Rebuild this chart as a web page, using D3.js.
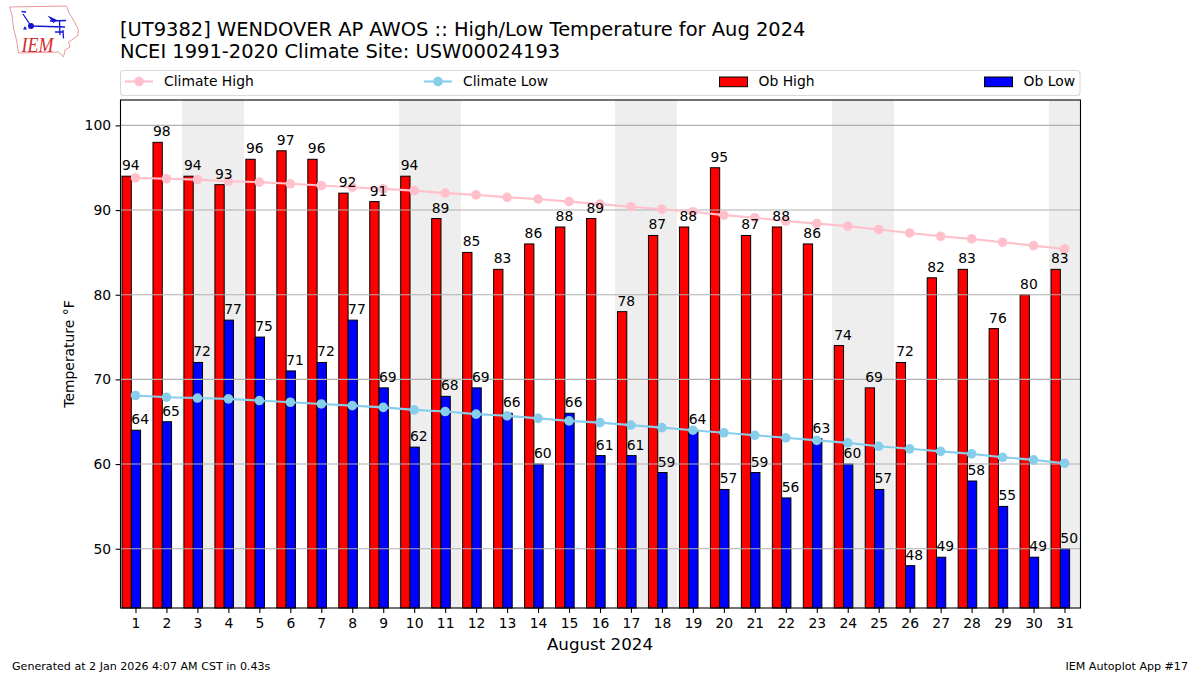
<!DOCTYPE html>
<html>
<head>
<meta charset="utf-8">
<title>High/Low Temperature</title>
<script src="https://cdn.jsdelivr.net/npm/d3@7"></script>
<style>
  html, body { margin: 0; padding: 0; background: #fff; }
  svg { display: block; }
  text { font-family: "DejaVu Sans", sans-serif; fill: #000; }
  text.logo-text { font-family: "Liberation Serif", serif; font-style: italic; fill: #d42a2a; }
</style>
</head>
<body>
<div id="chart"></div>
<script>
// Values
const days = d3.range(1, 32);
const obHigh = [94, 98, 94, 93, 96, 97, 96, 92, 91, 94, 89, 85, 83, 86, 88, 89, 78, 87, 88, 95, 87, 88, 86, 74, 69, 72, 82, 83, 76, 80, 83];
const obLow = [64, 65, 72, 77, 75, 71, 72, 77, 69, 62, 68, 69, 66, 60, 66, 61, 61, 59, 64, 57, 59, 56, 63, 60, 57, 48, 49, 58, 55, 49, 50];
const climateHigh = [93.8, 93.7, 93.6, 93.4, 93.3, 93.1, 92.9, 92.7, 92.5, 92.3, 92.0, 91.8, 91.5, 91.3, 91.0, 90.7, 90.4, 90.1, 89.8, 89.4, 89.1, 88.7, 88.4, 88.1, 87.7, 87.3, 86.9, 86.6, 86.2, 85.8, 85.4];
const climateLow = [68.1, 67.9, 67.8, 67.7, 67.5, 67.3, 67.1, 66.9, 66.7, 66.4, 66.2, 65.9, 65.7, 65.4, 65.1, 64.9, 64.6, 64.3, 64.0, 63.7, 63.4, 63.1, 62.8, 62.5, 62.1, 61.8, 61.5, 61.2, 60.8, 60.5, 60.1];
const weekendDays = [3, 4, 10, 11, 17, 18, 24, 25, 31];
const yTicks = [50, 60, 70, 80, 90, 100];
const titleLines = ["[UT9382] WENDOVER AP AWOS :: High/Low Temperature for Aug 2024", "NCEI 1991-2020 Climate Site: USW00024193"];

const width = 1200, height = 675;
const plotLeft = 120, plotRight = 1080, plotTop = 100, plotBottom = 608;
const barWidth = 0.3;
// Bars start a little left of the day tick, labels start at the bar's left edge
const highStart = -0.435, lowStart = -0.135;

const svg = d3.select("#chart").append("svg")
    .attr("width", width)
    .attr("height", height);

const x = d3.scaleLinear().domain([0.5, 31.5]).range([plotLeft, plotRight]);
const y = d3.scaleLinear().domain([43, 103]).range([plotBottom, plotTop]);

// Weekend shading
svg.append("g").selectAll("rect")
    .data(weekendDays)
    .enter()
    .append("rect")
    .attr("x", d => x(d - 0.5))
    .attr("y", plotTop)
    .attr("width", d => x(d + 0.5) - x(d - 0.5))
    .attr("height", plotBottom - plotTop)
    .attr("fill", "#eeeeee")
    .attr("shape-rendering", "crispEdges");

// Bars
function drawBars(values, offset, color) {
    svg.append("g").selectAll("rect")
        .data(values)
        .enter()
        .append("rect")
        .attr("x", (d, i) => x(days[i] + offset))
        .attr("y", d => y(d))
        .attr("width", x(barWidth) - x(0))
        .attr("height", d => plotBottom - y(d))
        .attr("fill", color)
        .attr("stroke", "#000")
        .attr("stroke-width", 1);
}
drawBars(obHigh, highStart, "#ff0000");
drawBars(obLow, lowStart, "#0000ff");

// Horizontal grid sits over the bars
svg.append("g").selectAll("line")
    .data(yTicks)
    .enter()
    .append("line")
    .attr("x1", plotLeft)
    .attr("x2", plotRight)
    .attr("y1", d => y(d))
    .attr("y2", d => y(d))
    .attr("stroke", "#b0b0b0")
    .attr("stroke-width", 1.1);

// Climate lines
function drawClimate(values, color) {
    const line = d3.line().x((d, i) => x(days[i])).y(d => y(d));
    svg.append("path")
        .attr("d", line(values))
        .attr("fill", "none")
        .attr("stroke", color)
        .attr("stroke-width", 2.1);
    svg.append("g").selectAll("circle")
        .data(values)
        .enter()
        .append("circle")
        .attr("cx", (d, i) => x(days[i]))
        .attr("cy", d => y(d))
        .attr("r", 4.8)
        .attr("fill", color);
}
drawClimate(climateHigh, "pink");
drawClimate(climateLow, "skyblue");

// Value labels
function drawLabels(values, offset) {
    svg.append("g").selectAll("text")
        .data(values)
        .enter()
        .append("text")
        .attr("x", (d, i) => x(days[i] + offset))
        .attr("y", d => y(d) - 6)
        .attr("font-size", "13.9px")
        .text(d => d);
}
drawLabels(obHigh, highStart);
drawLabels(obLow, lowStart);

// Axes
const xAxis = svg.append("g")
    .attr("transform", `translate(0,${plotBottom})`)
    .call(d3.axisBottom(x).tickValues(days).tickFormat(d3.format("d")).tickSize(4.9).tickPadding(5));
const yAxis = svg.append("g")
    .attr("transform", `translate(${plotLeft + 0.5},0)`)
    .call(d3.axisLeft(y).tickValues(yTicks).tickSize(4.9).tickPadding(4.5));
[xAxis, yAxis].forEach(function (axis) {
    axis.select(".domain").remove();
    axis.selectAll("line").attr("stroke", "#000").attr("stroke-width", 1.1);
    axis.selectAll("text").attr("font-size", "13.9px").attr("font-family", '"DejaVu Sans", sans-serif').attr("fill", "#000");
});

// Frame
svg.append("rect")
    .attr("x", plotLeft + 0.5)
    .attr("y", plotTop)
    .attr("width", plotRight - plotLeft)
    .attr("height", plotBottom - plotTop)
    .attr("fill", "none")
    .attr("stroke", "#000")
    .attr("stroke-width", 1.1);

// Axis titles
svg.append("text")
    .attr("transform", "translate(74,354) rotate(-90)")
    .attr("text-anchor", "middle")
    .attr("font-size", "13.9px")
    .text("Temperature °F");
svg.append("text")
    .attr("x", 600)
    .attr("y", 650)
    .attr("text-anchor", "middle")
    .attr("font-size", "16.7px")
    .text("August 2024");

// Title
svg.append("g").selectAll("text")
    .data(titleLines)
    .enter()
    .append("text")
    .attr("x", 120)
    .attr("y", (d, i) => 35.5 + i * 22)
    .attr("font-size", "19.45px")
    .text(d => d);

// Legend
const legend = svg.append("g");
legend.append("rect")
    .attr("x", 120.5)
    .attr("y", 70.5)
    .attr("width", 959.5)
    .attr("height", 25)
    .attr("rx", 3)
    .attr("fill", "#fff")
    .attr("stroke", "#d9d9d9")
    .attr("stroke-width", 1.1);

function legendLine(x0, color, label) {
    legend.append("line")
        .attr("x1", x0).attr("x2", x0 + 28)
        .attr("y1", 81.5).attr("y2", 81.5)
        .attr("stroke", color).attr("stroke-width", 2.1);
    legend.append("circle")
        .attr("cx", x0 + 14).attr("cy", 81.5).attr("r", 4.8)
        .attr("fill", color);
    legend.append("text")
        .attr("x", x0 + 39).attr("y", 86)
        .attr("font-size", "13.9px")
        .text(label);
}
function legendPatch(x0, color, label) {
    legend.append("rect")
        .attr("x", x0).attr("y", 77)
        .attr("width", 28).attr("height", 9.7)
        .attr("fill", color).attr("stroke", "#000").attr("stroke-width", 1);
    legend.append("text")
        .attr("x", x0 + 39).attr("y", 86)
        .attr("font-size", "13.9px")
        .text(label);
}
legendLine(125, "pink", "Climate High");
legendLine(424, "skyblue", "Climate Low");
legendPatch(719.5, "#ff0000", "Ob High");
legendPatch(984.5, "#0000ff", "Ob Low");

// Footer
svg.append("text")
    .attr("x", 12)
    .attr("y", 670)
    .attr("font-size", "11.1px")
    .text("Generated at 2 Jan 2026 4:07 AM CST in 0.43s");
svg.append("text")
    .attr("x", 1188)
    .attr("y", 670)
    .attr("text-anchor", "end")
    .attr("font-size", "11.1px")
    .text("IEM Autoplot App #17");

// Logo, hand traced
const logo = svg.append("g");
logo.append("path")
    .attr("d", "M9.5,7 L66.5,6 L68.5,12 L74,21 L78.5,30 L77.5,36 L68.5,42 L70,47 L65,50 L63.5,57 L58.5,52 L18.5,53 L16.5,40 L13.5,28 L12,15 Z")
    .attr("fill", "#fff")
    .attr("stroke", "#e89a9a")
    .attr("stroke-width", 1);
logo.append("path")
    .attr("d", "M31,26 L65,27 M31,26 L23,14 M21.5,11.5 L26,12 M50,21 L66,20.5 M59.5,21 L60,35 M55,32 L63.5,32 M63,30 L63.5,38.5")
    .attr("fill", "none")
    .attr("stroke", "#1414d2")
    .attr("stroke-width", 1.3);
logo.append("path")
    .attr("d", "M47.5,15.5 L57,20 L53.5,23 Z")
    .attr("fill", "#1414d2");
logo.append("path")
    .attr("d", "M25,26 L27,29.5 L23,29.5 Z")
    .attr("fill", "#1414d2");
logo.append("circle")
    .attr("cx", 31).attr("cy", 26).attr("r", 3)
    .attr("fill", "#1414d2");
logo.append("text")
    .attr("class", "logo-text")
    .attr("x", 21.5)
    .attr("y", 51.5)
    .attr("font-size", "22px")
    .attr("textLength", 32)
    .attr("lengthAdjust", "spacingAndGlyphs")
    .text("IEM");
</script>
</body>
</html>
